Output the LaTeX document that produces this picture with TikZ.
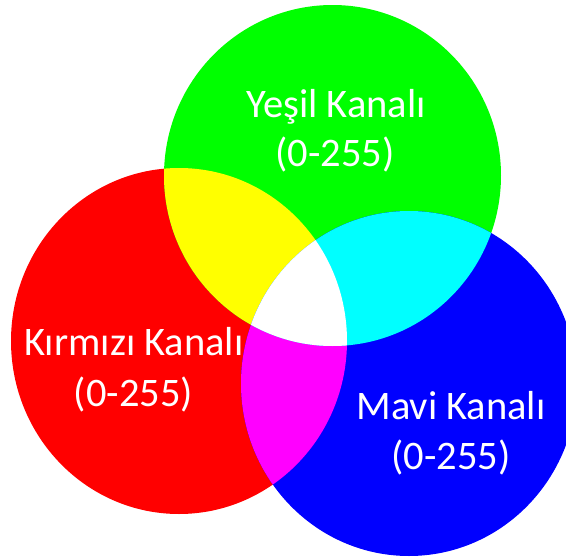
\documentclass[tikz,border=0pt]{standalone}
\usepackage{fontspec}
\setmainfont{Carlito}
\definecolor{chR}{RGB}{255,0,0}
\definecolor{chG}{RGB}{0,255,0}
\definecolor{chB}{RGB}{0,0,255}
\definecolor{mixY}{RGB}{255,255,0}
\definecolor{mixC}{RGB}{0,255,255}
\definecolor{mixM}{RGB}{255,0,255}
\begin{document}
\begin{tikzpicture}[x=1pt,y=-1pt,
  lbl/.style={text=white, font=\fontsize{40.5}{49}\selectfont, anchor=base, inner sep=0pt}]
  % page frame
  \fill[white] (0,0) rectangle (566,557);
  \useasboundingbox (0,0) rectangle (566,557);
  \clip (0,0) rectangle (566,557);

  % the three channel discs
  \fill[chR] (179,341) ellipse [x radius=168pt, y radius=173pt];
  \fill[chG] (332.5,175.5) ellipse [x radius=168.5pt, y radius=170.5pt];
  \fill[chB] (409,383.5) ellipse [x radius=168pt, y radius=172.5pt];

  % red + green = yellow
  \begin{scope}
    \clip (179,341) ellipse [x radius=168pt, y radius=173pt];
    \fill[mixY] (332.5,175.5) ellipse [x radius=168.5pt, y radius=170.5pt];
  \end{scope}
  % red + blue = magenta
  \begin{scope}
    \clip (179,341) ellipse [x radius=168pt, y radius=173pt];
    \fill[mixM] (409,383.5) ellipse [x radius=168pt, y radius=172.5pt];
  \end{scope}
  % green + blue = cyan
  \begin{scope}
    \clip (332.5,175.5) ellipse [x radius=168.5pt, y radius=170.5pt];
    \fill[mixC] (409,383.5) ellipse [x radius=168pt, y radius=172.5pt];
  \end{scope}
  % all three = white
  \begin{scope}
    \clip (179,341) ellipse [x radius=168pt, y radius=173pt];
    \clip (332.5,175.5) ellipse [x radius=168.5pt, y radius=170.5pt];
    \fill[white] (409,383.5) ellipse [x radius=168pt, y radius=172.5pt];
  \end{scope}

  % channel labels
  \node[lbl] (gname) at (336,117) {Yeşil Kanalı};
  \node[lbl] (grange) at (335,166) {(0-255)};
  \node[lbl] (rname) at (134,355.5) {Kırmızı Kanalı};
  \node[lbl] (rrange) at (133.5,406) {(0-255)};
  \node[lbl] (bname) at (451,419) {Mavi Kanalı};
  \node[lbl] (brange) at (451,469) {(0-255)};
\end{tikzpicture}
\end{document}
